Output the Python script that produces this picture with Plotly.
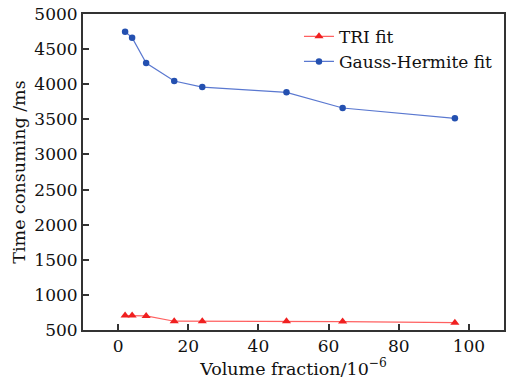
import plotly.graph_objects as go

volume_fraction = [2, 4, 8, 16, 24, 48, 64, 96]
tri_fit = [705, 705, 700, 625, 625, 625, 620, 605]
gauss_hermite_fit = [4748, 4663, 4302, 4046, 3960, 3885, 3661, 3514]

x_ticks = [0, 20, 40, 60, 80, 100]
y_ticks = [500, 1000, 1500, 2000, 2500, 3000, 3500, 4000, 4500, 5000]

FONT = "DejaVu Serif"

fig = go.Figure()
fig.add_trace(go.Scatter(
    x=volume_fraction, y=tri_fit, name="TRI fit", mode="lines+markers",
    line=dict(color="#ff6060", width=1.2),
    marker=dict(symbol="triangle-up", size=8, color="#f02020"),
))
fig.add_trace(go.Scatter(
    x=volume_fraction, y=gauss_hermite_fit, name="Gauss-Hermite fit", mode="lines+markers",
    line=dict(color="#5a78d0", width=1.2),
    marker=dict(symbol="circle", size=6.5, color="#2450b0"),
))

axis_common = dict(
    showline=True, linecolor="#333333", linewidth=2, mirror=True,
    showgrid=False, zeroline=False, ticks="inside", ticklen=6,
    tickcolor="#333333", tickwidth=1.5,
    tickfont=dict(family=FONT, size=17, color="#111111"),
)

fig.update_layout(
    width=508, height=380,
    margin=dict(l=83, r=2, t=14, b=50),
    paper_bgcolor="white", plot_bgcolor="white",
    font=dict(family=FONT, color="#111111"),
    showlegend=True,
    legend=dict(
        x=0.513, y=0.985, xanchor="left", yanchor="top",
        bgcolor="rgba(0,0,0,0)", borderwidth=0,
        font=dict(family=FONT, size=17, color="#111111"),
        itemwidth=30, tracegroupgap=0,
    ),
    xaxis=dict(
        range=[-10, 110], tickvals=x_ticks,
        title=dict(text="Volume fraction/10<sup>−6</sup>", font=dict(family=FONT, size=17.5), standoff=3),
        **axis_common,
    ),
    yaxis=dict(
        range=[500, 5000], tickvals=y_ticks,
        title=dict(text="Time consuming /ms", font=dict(family=FONT, size=17.5), standoff=4),
        **axis_common,
    ),
)

fig.write_html("out.html")
